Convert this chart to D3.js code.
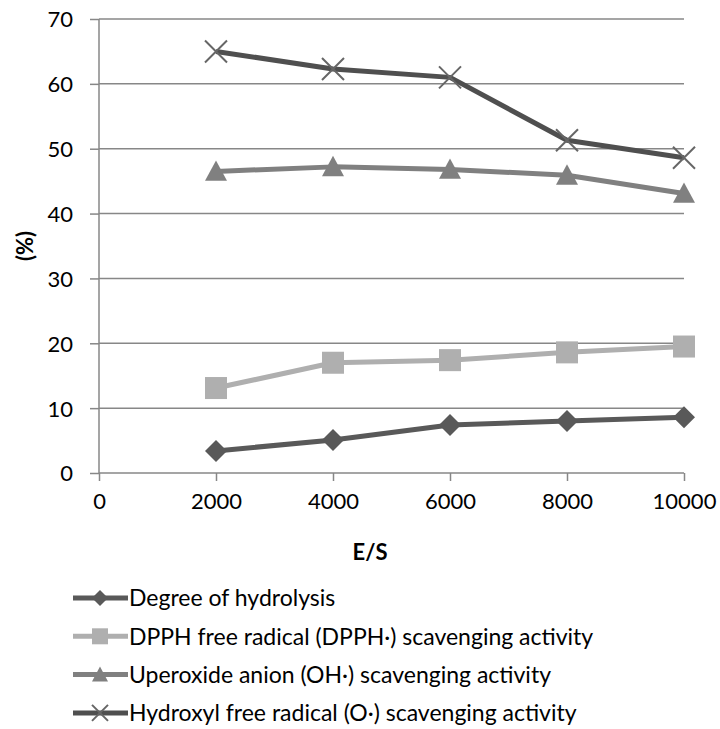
<!DOCTYPE html>
<html lang="en">
<head>
    <meta charset="UTF-8">
    <title>E/S chart</title>
    <style>
        body { margin: 0; background: #fff; }
        text { font-family: Lato, "Open Sans", sans-serif; fill: #000; }
    </style>
</head>
<body>
    <svg width="720" height="729"></svg>
    <script src="https://d3js.org/d3.v7.min.js"></script>
    <script>
        const ratios = [2000, 4000, 6000, 8000, 10000];
        const xTicks = [0, 2000, 4000, 6000, 8000, 10000];
        const yTicks = [0, 10, 20, 30, 40, 50, 60, 70];

        const hydrolysis = [3.4, 5.1, 7.4, 8.0, 8.6];
        const dpph = [13.1, 17.0, 17.4, 18.6, 19.5];
        const uperoxide = [46.5, 47.2, 46.8, 45.9, 43.1];
        const hydroxyl = [65.0, 62.3, 61.0, 51.3, 48.6];

        const seriesNames = [
            "Degree of hydrolysis",
            "DPPH free radical (DPPH\u00b7) scavenging activity",
            "Uperoxide anion (OH\u00b7) scavenging activity",
            "Hydroxyl free radical (O\u00b7) scavenging activity"
        ];

        const series = [
            { name: seriesNames[0], values: hydrolysis, color: "#595959", marker: "diamond" },
            { name: seriesNames[1], values: dpph, color: "#afafaf", marker: "square" },
            { name: seriesNames[2], values: uperoxide, color: "#808080", marker: "triangle" },
            { name: seriesNames[3], values: hydroxyl, color: "#4f4f4f", marker: "cross" }
        ];

        const svg = d3.select("svg");
        const mLeft = 99, mRight = 684, mTop = 19, mBottom = 473;
        const fontSize = "22px";

        const x = d3.scaleLinear().domain([0, 10000]).range([mLeft, mRight]);
        const y = d3.scaleLinear().domain([0, 70]).range([mBottom, mTop]);

        // gridlines
        svg.append("g")
            .selectAll("line")
            .data(yTicks.slice(1))
            .enter().append("line")
            .attr("x1", mLeft).attr("x2", mRight)
            .attr("y1", d => y(d)).attr("y2", d => y(d))
            .style("stroke", "#878787")
            .style("stroke-width", 1.5);

        const yAxis = svg.append("g")
            .attr("transform", `translate(${mLeft},0)`)
            .call(d3.axisLeft(y).tickValues(yTicks).tickSize(9).tickPadding(17));
        yAxis.select(".domain").attr("d", `M0,${mBottom}V${mTop}`)
            .style("stroke", "#878787").style("stroke-width", 1.5);
        yAxis.selectAll(".tick line").style("stroke", "#878787").style("stroke-width", 1.5);
        yAxis.selectAll("text").style("font-size", fontSize).attr("dy", "0.36em");

        const xAxis = svg.append("g")
            .attr("transform", `translate(0,${mBottom})`)
            .call(d3.axisBottom(x).tickValues(xTicks).tickSize(8).tickPadding(12).tickFormat(d3.format("d")));
        xAxis.select(".domain").attr("d", `M${mLeft},0H${mRight}`)
            .style("stroke", "#878787").style("stroke-width", 1.5);
        xAxis.selectAll(".tick line").style("stroke", "#878787").style("stroke-width", 1.5);
        xAxis.selectAll("text").style("font-size", fontSize);

        svg.append("text")
            .attr("x", 370).attr("y", 552)
            .attr("text-anchor", "middle").attr("dy", "0.36em")
            .style("font-size", fontSize).style("font-weight", "bold")
            .text("E/S");

        svg.append("text")
            .attr("transform", "translate(25,246) rotate(-90)")
            .attr("text-anchor", "middle").attr("dy", "0.36em")
            .style("font-size", fontSize).style("font-weight", "bold")
            .text("(%)");

        const line = d3.line()
            .x((d, i) => x(ratios[i]))
            .y(d => y(d));

        function drawMarker(g, type, color, s) {
            if (type === "diamond") {
                g.append("path").attr("d", `M0,${-s}L${s},0L0,${s}L${-s},0Z`).style("fill", color);
            } else if (type === "square") {
                g.append("rect").attr("x", -s).attr("y", -s).attr("width", 2 * s).attr("height", 2 * s)
                    .style("fill", color);
            } else if (type === "triangle") {
                g.append("path").attr("d", `M0,${-s}L${s},${0.85 * s}L${-s},${0.85 * s}Z`).style("fill", color);
            } else {
                g.append("path").attr("d", `M${-s},${-s}L${s},${s}M${-s},${s}L${s},${-s}`)
                    .style("stroke", "#666").style("stroke-width", 2).style("fill", "none");
            }
        }

        series.forEach(s => {
            svg.append("path")
                .datum(s.values)
                .attr("d", line)
                .style("fill", "none")
                .style("stroke", s.color)
                .style("stroke-width", 5)
                .style("stroke-linejoin", "round");

            svg.append("g")
                .selectAll("g")
                .data(s.values)
                .enter().append("g")
                .attr("transform", (d, i) => `translate(${x(ratios[i])},${y(d)})`)
                .each(function () { drawMarker(d3.select(this), s.marker, s.color, 11); });
        });

        // legend
        const legend = svg.append("g");
        series.forEach((s, i) => {
            const cy = 598 + i * 38.3;
            const row = legend.append("g").attr("transform", `translate(0,${cy})`);
            row.append("line")
                .attr("x1", 73).attr("x2", 128)
                .style("stroke", s.color).style("stroke-width", 5);
            const m = row.append("g").attr("transform", "translate(100,0)");
            drawMarker(m, s.marker, s.color, 8);
            row.append("text")
                .attr("x", 129).attr("dy", "0.36em")
                .style("font-size", "23px")
                .text(s.name);
        });
    </script>
</body>
</html>
